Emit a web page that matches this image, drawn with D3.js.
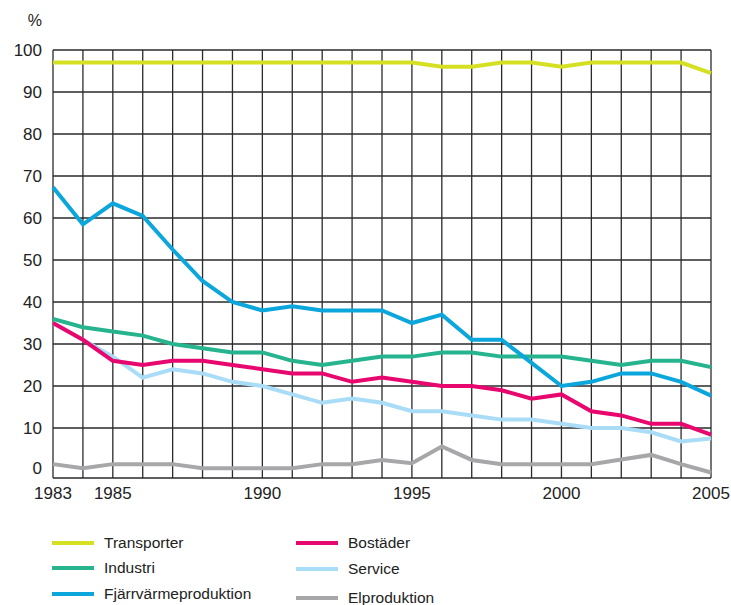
<!DOCTYPE html>
<html><head><meta charset="utf-8">
<script src="https://cdn.jsdelivr.net/npm/d3@7"></script>
<style>body{margin:0;background:#fff}svg{display:block}text{font-family:"Liberation Sans",Arial,Helvetica,sans-serif;fill:#222}</style>
</head><body>
<script>
const years = d3.range(1983, 2006);
const transporter = [97,97,97,97,97,97,97,97,97,97,97,97,97,96,96,97,97,96,97,97,97,97,94.5];
const industri = [36,34,33,32,30,29,28,28,26,25,26,27,27,28,28,27,27,27,26,25,26,26,24.5];
const fjarrvarme = [67.3,58.5,63.5,60.5,52.5,45,40,38,39,38,38,38,35,37,31,31,25.5,20,21,23,23,21,17.7];
const bostader = [35,31,26,25,26,26,25,24,23,23,21,22,21,20,20,19,17,18,14,13,11,11,8.4];
const service = [35,31,27,22,24,23,21,20,18,16,17,16,14,14,13,12,12,11,10,10,9,6.8,7.5];
const elproduktion = [1.4,0.4,1.4,1.4,1.4,0.4,0.4,0.4,0.4,1.4,1.4,2.4,1.6,5.6,2.4,1.4,1.4,1.4,1.4,2.5,3.6,1.4,-0.6];
const yTicks = [0,10,20,30,40,50,60,70,80,90,100];
const xTickLabels = [1983,1985,1990,1995,2000,2005];
const seriesNames = ["Transporter","Industri","Fjärrvärmeproduktion","Bostäder","Service","Elproduktion"];
const seriesColors = ["#d6e022","#25b48e","#0aa6dc","#e8076e","#a9dcf6","#a7a7a9"];
const seriesData = [transporter, industri, fjarrvarme, bostader, service, elproduktion];

const W = 731, H = 605;
const svg = d3.select("body").append("svg").attr("width", W).attr("height", H);
const x = d3.scaleLinear().domain([1983, 2005]).range([53, 711]);
const y = d3.scaleLinear().domain([-1.9, 100]).range([478, 50]);

// grid
const grid = svg.append("g").attr("stroke", "#2a2a2a").attr("stroke-width", 1.3).attr("fill", "none");
grid.selectAll("line.v").data(years).join("line").attr("class","v")
  .attr("x1", d => x(d)).attr("x2", d => x(d)).attr("y1", y(100)).attr("y2", y(-1.9));
grid.selectAll("line.h").data(yTicks.filter(d => d > 0)).join("line").attr("class","h")
  .attr("x1", x(1983)).attr("x2", x(2005)).attr("y1", d => y(d)).attr("y2", d => y(d));
grid.append("line").attr("x1", x(1983)).attr("x2", x(2005)).attr("y1", y(-1.9)).attr("y2", y(-1.9));

// y labels
svg.append("g").selectAll("text").data(yTicks).join("text")
  .attr("x", 42).attr("y", d => y(d) + (d === 0 ? -2 : 0)).attr("dy", "0.36em")
  .attr("text-anchor", "end").attr("font-size", 17).text(d => d);
svg.append("text").attr("x", 42).attr("y", 26).attr("text-anchor", "end").attr("font-size", 16).text("%");

// x labels
svg.append("g").selectAll("text").data(xTickLabels).join("text")
  .attr("x", d => x(d)).attr("y", 499).attr("text-anchor", "middle").attr("font-size", 17).text(d => d);

// lines
const line = d3.line().x((d, i) => x(years[i])).y(d => y(d));
const order = [5, 4, 3, 1, 2, 0];
svg.append("g").selectAll("path").data(order).join("path")
  .attr("d", k => line(seriesData[k])).attr("fill", "none")
  .attr("stroke", k => seriesColors[k]).attr("stroke-width", 4).attr("stroke-linejoin", "miter");

// legend
const legPos = [[52,543],[52,568],[52,594],[296,543],[296,569],[296,598]];
const leg = svg.append("g");
seriesNames.forEach((n, i) => {
  const [lx, ly] = legPos[i];
  leg.append("line").attr("x1", lx).attr("x2", lx + 42).attr("y1", ly).attr("y2", ly)
    .attr("stroke", seriesColors[i]).attr("stroke-width", 4);
  leg.append("text").attr("x", lx + 52).attr("y", ly).attr("dy", "0.35em").attr("font-size", 15.5).text(n);
});
</script>
</body></html>
